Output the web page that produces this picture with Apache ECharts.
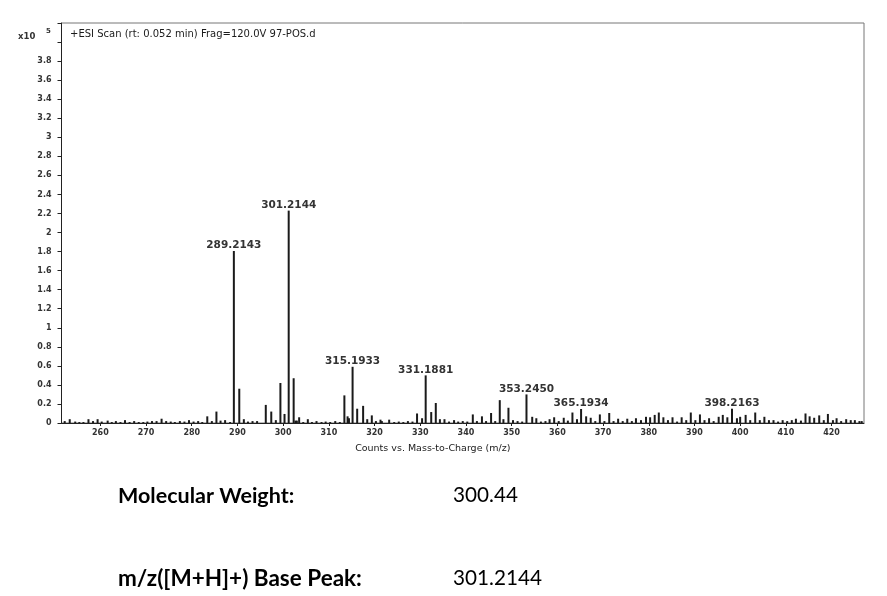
<!DOCTYPE html>
<html>
<head>
<meta charset="utf-8">
<script src="https://cdn.jsdelivr.net/npm/echarts@6/dist/echarts.min.js"></script>
<style>
html,body{margin:0;padding:0;background:#fff;}
#chart{width:887px;height:596px;}
</style>
</head>
<body>
<div id="chart"></div>
<script>
// m/z values of the sticks
const mzValues = [
252.2,253.3,254.5,255.4,256.3,257.4,258.4,259.4,260.3,261.6,262.5,263.4,264.4,265.4,266.4,267.4,268.4,269.4,270.3,271.3,
272.3,273.4,274.4,275.4,276.3,277.4,278.4,279.4,280.4,281.4,282.3,283.4,284.4,285.4,286.3,287.3,288.4,289.2143,290.4,291.4,
292.3,293.3,294.3,296.2,297.4,298.4,299.4,300.3,301.2144,302.3,302.7,303.0,303.5,304.4,305.4,306.3,307.3,308.4,309.3,310.3,
311.4,312.4,313.4,314.1,314.4,315.1933,316.2,317.5,318.4,319.4,320.3,321.3,321.6,323.2,324.3,325.3,326.3,327.3,328.3,329.3,
330.4,331.1881,332.4,333.4,334.3,335.3,336.3,337.4,338.3,339.3,340.3,341.5,342.4,343.5,344.4,345.5,346.4,347.4,348.2,349.3,
350.3,351.3,352.3,353.245,354.5,355.4,356.4,357.4,358.3,359.3,360.3,361.4,362.3,363.3,364.3,365.1934,366.3,367.3,368.3,369.3,
370.3,371.35,372.3,373.3,374.3,375.3,376.3,377.2,378.3,379.4,380.3,381.3,382.2,383.2,384.2,385.2,386.2,387.2,388.2,389.2,
390.2,391.2,392.2,393.2,394.2,395.3,396.2,397.2,398.2163,399.3,400.0,401.2,402.2,403.3,404.3,405.3,406.3,407.3,408.3,409.3,
410.3,411.3,412.2,413.3,414.3,415.2,416.2,417.3,418.3,419.2,420.3,421.1,422.1,423.2,424.2,425.1,426.1,426.6
];
// intensities in units of x10^5 counts
const intensities = [
0.02,0.04,0.015,0.01,0.01,0.04,0.02,0.04,0.015,0.025,0.01,0.02,0.01,0.03,0.01,0.02,0.01,0.01,0.015,0.02,
0.02,0.045,0.02,0.015,0.01,0.02,0.015,0.03,0.015,0.02,0.01,0.07,0.02,0.12,0.025,0.03,0.01,1.806,0.36,0.04,
0.015,0.02,0.02,0.19,0.12,0.03,0.42,0.095,2.23,0.47,0.025,0.025,0.06,0.01,0.04,0.01,0.02,0.01,0.015,0.01,
0.02,0.01,0.29,0.07,0.05,0.59,0.15,0.18,0.04,0.08,0.02,0.035,0.02,0.035,0.01,0.015,0.01,0.02,0.015,0.10,
0.05,0.50,0.115,0.21,0.04,0.04,0.015,0.03,0.015,0.02,0.015,0.09,0.02,0.07,0.02,0.105,0.02,0.24,0.04,0.16,
0.03,0.02,0.015,0.30,0.065,0.05,0.015,0.02,0.04,0.06,0.02,0.055,0.025,0.11,0.04,0.147,0.07,0.055,0.02,0.09,
0.02,0.105,0.02,0.045,0.02,0.045,0.02,0.05,0.03,0.065,0.06,0.085,0.11,0.06,0.03,0.06,0.015,0.06,0.03,0.11,
0.03,0.09,0.03,0.05,0.02,0.065,0.085,0.06,0.15,0.05,0.065,0.085,0.03,0.11,0.03,0.065,0.03,0.03,0.015,0.03,
0.02,0.03,0.045,0.025,0.10,0.07,0.055,0.08,0.03,0.095,0.03,0.05,0.02,0.04,0.03,0.03,0.02,0.02
];
// annotated peaks
const labeledPeaks = ["289.2143","301.2144","315.1933","331.1881","353.2450","365.1934","398.2163"];
// axis ticks
const xTicks = [260,270,280,290,300,310,320,330,340,350,360,370,380,390,400,410,420];
const titleText = "+ESI Scan (rt: 0.052 min) Frag=120.0V 97-POS.d";
const xAxisName = "Counts vs. Mass-to-Charge (m/z)";
const infoLabels = ["Molecular Weight:", "m/z([M+H]+) Base Peak:"];
const infoValues = ["300.44", "301.2144"];

const font = '"DejaVu Sans", Verdana, sans-serif';
const labelSet = new Set(labeledPeaks.map(Number));
const seriesData = mzValues.map((mz, i) => {
  const item = { value: [mz, intensities[i]] };
  if (labelSet.has(mz)) {
    const txt = labeledPeaks.find(s => Number(s) === mz);
    item.label = { show: true, position: 'top', distance: 0, formatter: txt,
      fontFamily: font, fontWeight: 'bold', fontSize: 10.5, color: '#333' };
  }
  return item;
});

const chart = echarts.init(document.getElementById('chart'), null, { renderer: 'canvas' });
chart.setOption({
  animation: false,
  backgroundColor: '#fff',
  title: {
    text: titleText, left: 65, top: 24,
    textStyle: { fontFamily: font, fontSize: 10, fontWeight: 'normal', color: '#1a1a1a' }
  },
  grid: { left: 61.5, right: 23, top: 23, bottom: 173, show: true, borderColor: '#777', borderWidth: 1 },
  xAxis: {
    type: 'value', min: 251.5, max: 427.1,
    name: xAxisName, nameLocation: 'middle', nameGap: 21,
    nameTextStyle: { fontFamily: font, fontSize: 9.5, color: '#1a1a1a', padding: [0, 60, 0, 0] },
    axisLine: { show: true, onZero: false, lineStyle: { color: '#222', width: 1 } },
    axisTick: { show: true, customValues: xTicks, length: 3, lineStyle: { color: '#222' } },
    axisLabel: { customValues: xTicks, fontFamily: font, fontWeight: 'bold', fontSize: 8, color: '#333', margin: 6 },
    splitLine: { show: false }
  },
  yAxis: {
    type: 'value', min: 0, max: 4.2, interval: 0.2,
    axisLine: { show: true, lineStyle: { color: '#222', width: 1 } },
    axisTick: { show: true, length: 4, lineStyle: { color: '#222' } },
    axisLabel: {
      fontFamily: font, fontWeight: 'bold', fontSize: 8, color: '#333', margin: 10,
      formatter: v => (v > 3.9 ? '' : String(+v.toFixed(1)))
    },
    splitLine: { show: false }
  },
  series: [{
    type: 'bar', data: seriesData, barWidth: 2, barGap: '-100%',
    itemStyle: { color: '#1a1a1a' }, silent: true
  }],
  graphic: [
    { type: 'text', left: 18, top: 32, style: { text: 'x10', font: 'bold 8.5px ' + font, fill: '#333' } },
    { type: 'text', left: 46, top: 28, style: { text: '5', font: 'bold 7px ' + font, fill: '#333' } },
    { type: 'text', left: 118, top: 485, style: { text: infoLabels[0], font: 'bold 21.5px Lato, sans-serif', fill: '#000' } },
    { type: 'text', left: 453, top: 485, style: { text: infoValues[0], font: '20.7px Lato, sans-serif', fill: '#000' } },
    { type: 'text', left: 118, top: 567, style: { text: infoLabels[1], font: 'bold 22.5px Lato, sans-serif', fill: '#000' } },
    { type: 'text', left: 453, top: 568, style: { text: infoValues[1], font: '20.7px Lato, sans-serif', fill: '#000' } }
  ]
});
</script>
</body>
</html>
